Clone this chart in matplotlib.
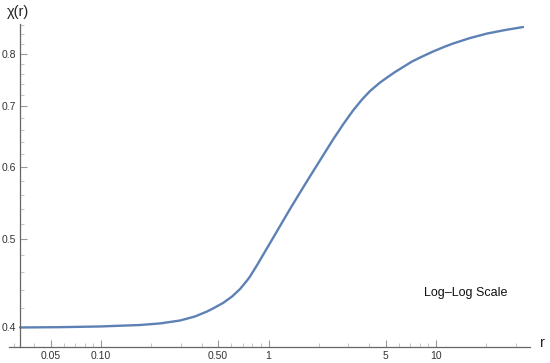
import numpy as np
import matplotlib
matplotlib.use('Agg')
import matplotlib.pyplot as plt
from matplotlib.ticker import FixedLocator, NullFormatter

plt.rcParams['font.family'] = ['Liberation Sans', 'DejaVu Sans']

# --------- 讀圖得到的資料 (log-log)
r_vals = [0.03284, 0.0569, 0.09863, 0.1709, 0.2251, 0.2962, 0.364, 0.4294, 0.4663,
          0.5352, 0.6055, 0.676, 0.7441, 0.7754, 0.8656, 0.953, 0.9931, 1.0638,
          1.1713, 1.3438, 1.5424, 1.7214, 1.9745, 2.4275, 2.7856, 3.1955, 3.6153,
          4.0363, 4.6314, 5.0995, 5.692, 6.3533, 7.191, 8.0266, 9.596, 11.318,
          12.634, 15.959, 20.162, 25.823, 33.072]
chi_vals = [0.4000, 0.4003, 0.4010, 0.4025, 0.4041, 0.4071, 0.4113, 0.4165, 0.4197,
            0.4256, 0.4326, 0.4409, 0.4505, 0.4551, 0.4703, 0.4848, 0.4910, 0.5017,
            0.5171, 0.5399, 0.5629, 0.5817, 0.6057, 0.6436, 0.6686, 0.6927, 0.7122,
            0.7277, 0.7435, 0.7530, 0.7635, 0.7732, 0.7841, 0.7920, 0.8042, 0.8144,
            0.8206, 0.8321, 0.8416, 0.8491, 0.8556]

x_major = [0.05, 0.1, 0.5, 1, 5, 10]
x_major_labels = ['0.05', '0.10', '0.50', '1', '5', '10']
x_minor = [0.03, 0.04, 0.06, 0.07, 0.08, 0.09, 0.2, 0.3, 0.4, 0.6, 0.7, 0.8, 0.9,
           2, 3, 4, 6, 7, 8, 9, 20, 30]
y_major = [0.4, 0.5, 0.6, 0.7, 0.8]
y_major_labels = ['0.4', '0.5', '0.6', '0.7', '0.8']
y_minor = [0.42, 0.44, 0.46, 0.48, 0.52, 0.54, 0.56, 0.58, 0.62, 0.64, 0.66, 0.68,
           0.72, 0.74, 0.76, 0.78, 0.82, 0.84, 0.86]

fig = plt.figure(figsize=(5.5, 3.63), dpi=100)
ax = fig.add_axes([9 / 550, 16 / 363, 521 / 550, 323 / 363])

ax.plot(r_vals, chi_vals, color='#5e81b5', lw=1.7, solid_capstyle='round',
        solid_joinstyle='round')
ax.set_xscale('log')
ax.set_yscale('log')
ax.set_xlim(0.0282, 36.4)
ax.set_ylim(0.3807, 0.8622)

# 軸線 (Mathematica 風格)
for s in ['top', 'right']:
    ax.spines[s].set_visible(False)
ax.spines['left'].set_position(('data', 0.0328))
for s in ['left', 'bottom']:
    ax.spines[s].set_color('#666666')
    ax.spines[s].set_linewidth(0.9)

ax.xaxis.set_major_locator(FixedLocator(x_major))
ax.set_xticklabels(x_major_labels)
ax.xaxis.set_minor_locator(FixedLocator(x_minor))
ax.xaxis.set_minor_formatter(NullFormatter())
ax.yaxis.set_major_locator(FixedLocator(y_major))
ax.set_yticklabels(y_major_labels)
ax.yaxis.set_minor_locator(FixedLocator(y_minor))
ax.yaxis.set_minor_formatter(NullFormatter())

ax.tick_params(which='major', direction='in', length=5, width=0.8, color='#999999',
               labelsize=7.5, labelcolor='#333333', pad=3)
ax.tick_params(which='minor', direction='in', length=3, width=0.6, color='#bbbbbb')

fig.text(18 / 550, 1 - 12 / 363, 'χ(r)', fontsize=10.5, ha='center', va='center', color='#222222')
fig.text(542 / 550, 1 - 343 / 363, 'r', fontsize=10.5, ha='center', va='center', color='#222222')
ax.text(0.877, 0.167, 'Log–Log Scale', transform=ax.transAxes, fontsize=9,
        ha='center', va='center', color='#111111')

plt.savefig('out.png', dpi=100)
plt.close()
